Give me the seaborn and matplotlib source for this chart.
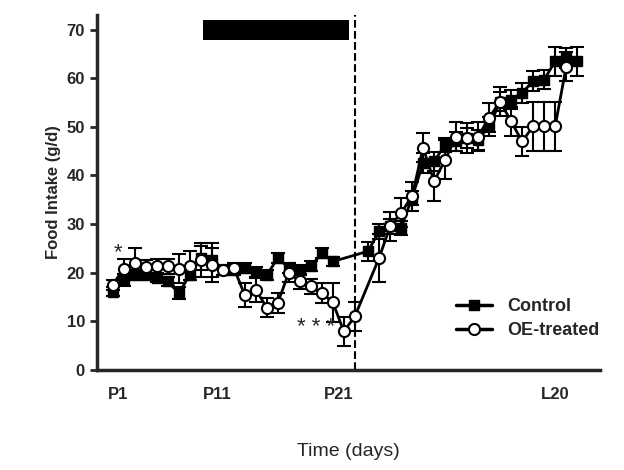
import numpy as np
import matplotlib.pyplot as plt
from matplotlib.lines import Line2D
import seaborn as sns

# control: pregnancy P1-P21, lactation L1-L20
ctrl_x = list(range(1, 22)) + [24.2 + k for k in range(20)]
ctrl_y = [16.1, 18.5, 19.5, 19.5, 19.0, 18.2, 15.8, 19.5, 23.0, 22.6, 20.6, 20.6, 21.0, 20.2, 19.5,
          23.0, 21.0, 20.6, 21.3, 24.0, 22.3,
          24.4, 28.5, 29.5, 29.2, 35.4, 42.6, 42.9, 46.3, 47.0, 47.7, 47.3, 50.1, 55.2, 55.6,
          57.0, 59.4, 59.7, 63.5, 64.2, 63.5]
ctrl_err = [1.0, 1.2, 1.0, 1.0, 1.0, 1.0, 1.2, 1.0, 2.5, 3.5, 1.0, 1.0, 1.0, 1.0, 1.0,
            1.0, 1.0, 1.0, 1.0, 1.0, 1.0,
            2.0, 1.5, 1.5, 1.5, 1.5, 2.0, 2.0, 1.5, 2.0, 2.0, 2.0, 2.0, 2.0, 2.0,
            2.0, 2.0, 2.0, 3.0, 2.0, 3.0]

# OE-treated: pregnancy to P23, lactation L2-L19
oe_x = list(range(1, 24)) + [25.2 + k for k in range(18)]
oe_y = [17.5, 20.8, 22.0, 21.2, 21.3, 21.3, 20.8, 21.4, 22.6, 21.6, 20.6, 21.0, 15.4, 16.5, 12.8,
        13.8, 20.0, 18.2, 17.2, 15.8, 13.9, 7.9, 11.0,
        23.0, 29.5, 32.3, 35.7, 45.7, 38.8, 43.2, 48.0, 47.7, 48.0, 51.9, 55.2, 51.1, 47.0,
        50.1, 50.1, 50.1, 62.4]
oe_err = [1.0, 2.0, 3.0, 1.5, 1.5, 1.5, 3.0, 3.0, 3.5, 3.5, 1.0, 1.0, 2.5, 2.5, 2.0,
          2.0, 2.0, 1.5, 1.5, 2.0, 4.0, 3.0, 3.0,
          5.0, 3.0, 3.0, 3.0, 3.0, 4.0, 4.0, 3.0, 3.0, 3.0, 3.0, 3.0, 3.0, 3.0,
          5.0, 5.0, 5.0, 3.0]

tick_pos = [1.5, 10.5, 21.5, 41.2]
tick_labels = ['P1', 'P11', 'P21', 'L20']

sns.set_style('ticks')
plt.rcParams['font.family'] = ['Liberation Sans', 'DejaVu Sans']
fig = plt.figure(figsize=(6.24, 4.7), dpi=100)
ax = fig.add_axes([0.155, 0.213, 0.807, 0.755])

ax.errorbar(ctrl_x, ctrl_y, yerr=ctrl_err, color='black', marker='s', ms=7, lw=2,
            capsize=5, elinewidth=1.5, capthick=1.5, mfc='black', zorder=2)
ax.errorbar(oe_x, oe_y, yerr=oe_err, color='black', marker='o', ms=8, lw=2,
            capsize=5, elinewidth=1.5, capthick=1.5, mfc='white', mew=1.5, zorder=3)

ax.axvline(23, color='black', ls='--', lw=1.5)
ax.fill_between([9.2, 22.5], 67.9, 72, color='black', lw=0)

ax.text(1.5, 23, '*', fontsize=16, ha='center')
ax.text(19.5, 7.5, '* * *', fontsize=16, ha='center')

ax.set_xlim(-0.45, 45.3)
ax.set_ylim(0, 73)
ax.set_yticks(range(0, 71, 10))
ax.set_xticks(tick_pos)
ax.set_xticklabels(tick_labels)
for lab in ax.get_xticklabels() + ax.get_yticklabels():
    lab.set_fontweight('bold')
    lab.set_fontsize(12)
ax.tick_params(axis='x', length=0, pad=12)
ax.tick_params(axis='y', width=2, length=5)
sns.despine(ax=ax)
for s in ['left', 'bottom']:
    ax.spines[s].set_linewidth(2.5)

ax.set_ylabel('Food Intake (g/d)', fontsize=12, fontweight='bold')
ax.set_xlabel('Time (days)', fontsize=14, labelpad=30)

handles = [Line2D([], [], color='black', marker='s', ms=7, lw=2.5),
           Line2D([], [], color='black', marker='o', ms=8, lw=2.5, mfc='white', mew=1.5)]
ax.legend(handles, ['Control', 'OE-treated'], loc='lower right', frameon=False,
          prop={'weight': 'bold', 'size': 13}, handlelength=2.0,
          bbox_to_anchor=(1.03, 0.04), labelspacing=0.4)

fig.savefig('out.png', dpi=100, facecolor='white')
